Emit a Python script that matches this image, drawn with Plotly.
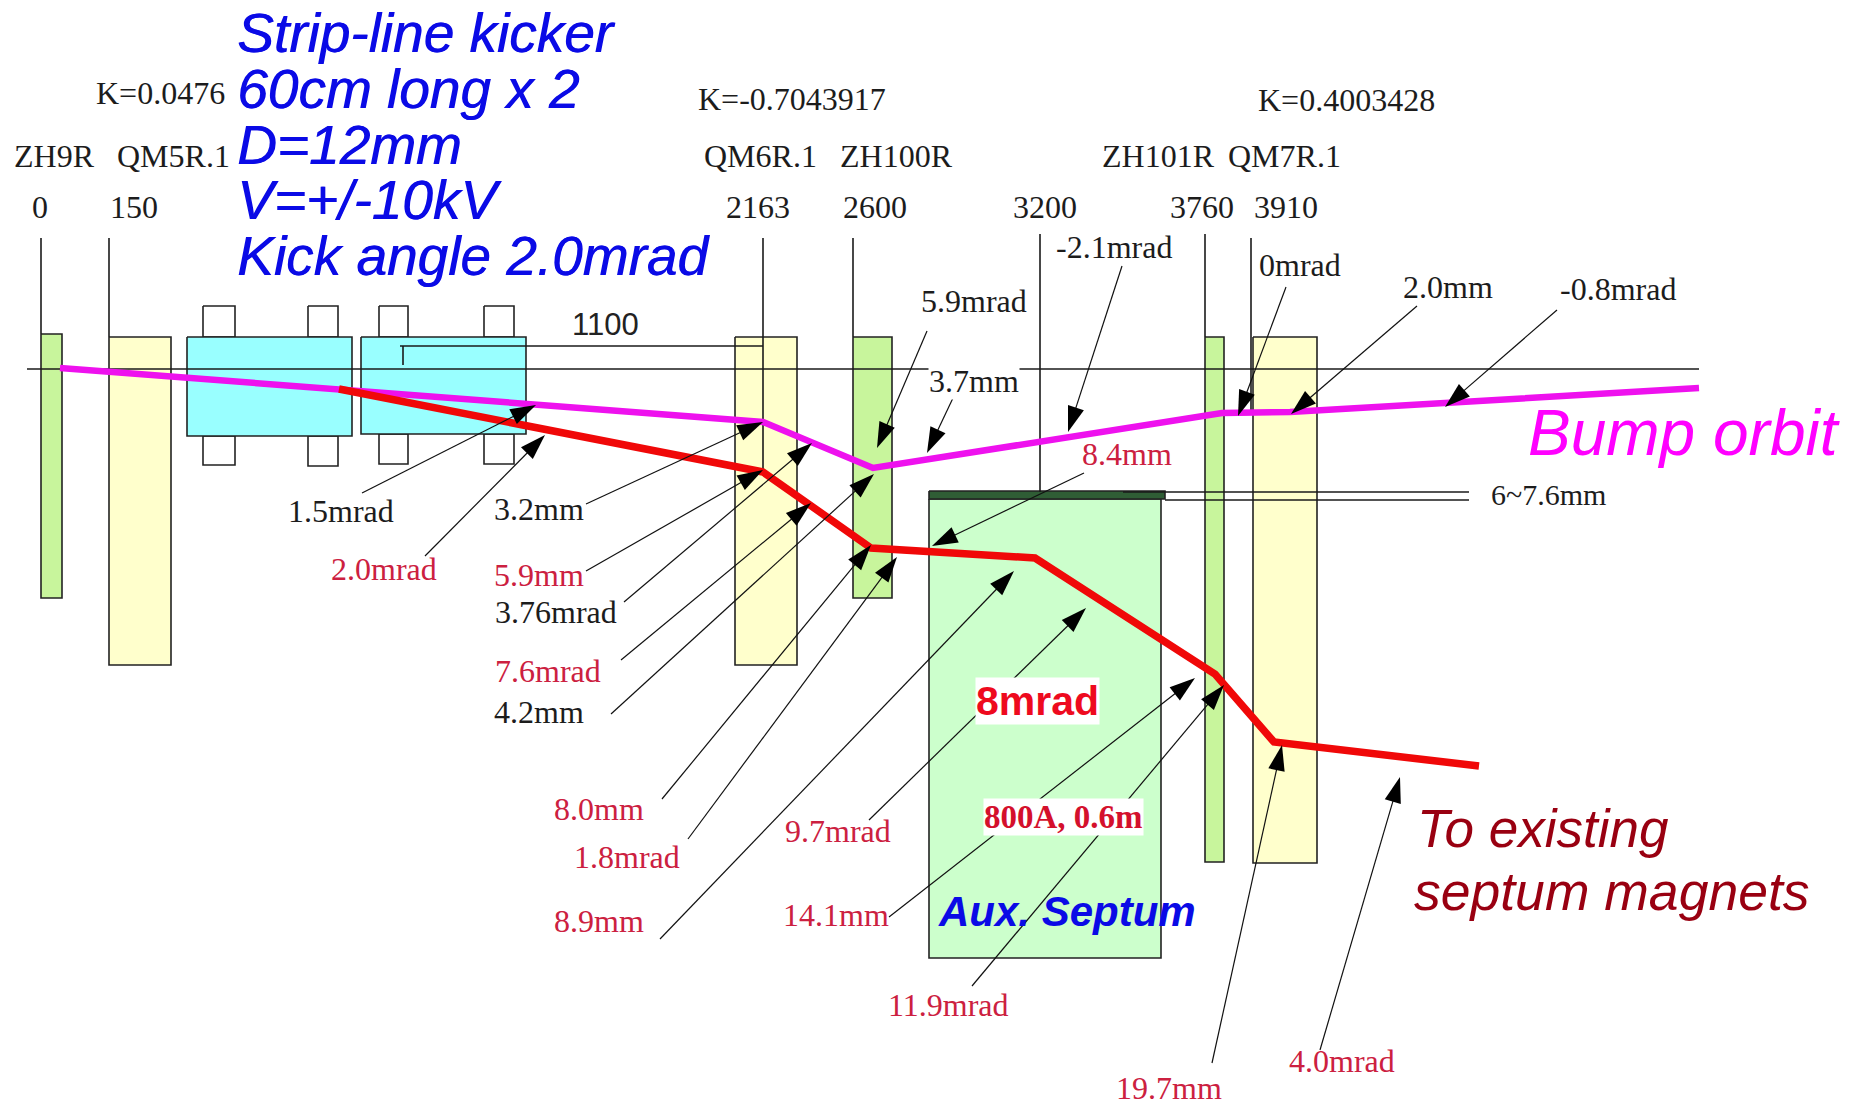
import plotly.graph_objects as go

SERIF = "Liberation Serif"
SANS = "Liberation Sans"
BLACK = "#1c1c1c"
RED_TXT = "#cc2040"
BLUE = "#0a0ae6"

# Elements on the beam line (pixel-plane coordinates of the drawing)
rect_x0 = [41, 109, 187, 361, 735, 853, 1205, 1253, 929, 929]
rect_x1 = [62, 171, 352, 526, 797, 892, 1224, 1317, 1161, 1165]
rect_y0 = [334, 337, 337, 337, 337, 337, 337, 337, 499, 491]
rect_y1 = [598, 665, 436, 434, 665, 598, 862, 863, 958, 499]
rect_fill = ["#c8f59c", "#ffffcc", "#99ffff", "#99ffff", "#ffffcc", "#c8f59c",
             "#c8f59c", "#ffffcc", "#ccffcc", "#2f5d35"]

tab_x0 = [203, 308, 379, 484, 203, 308, 379, 484]
tab_x1 = [235, 338, 408, 514, 235, 338, 408, 514]
tab_y0 = [306, 306, 306, 306, 436, 436, 434, 434]
tab_y1 = [337, 337, 337, 337, 465, 466, 464, 464]

# Reference lines: x0, y0, x1, y1
ref_x0 = [41, 109, 763, 853, 1040, 1205, 1251, 27, 400, 403, 1123, 1165]
ref_y0 = [238, 238, 238, 238, 234, 234, 238, 369, 346, 346, 492, 500]
ref_x1 = [41, 109, 763, 853, 1040, 1205, 1251, 1699, 763, 403, 1469, 1469]
ref_y1 = [334, 337, 472, 337, 492, 337, 415, 369, 346, 365, 492, 500]

# Orbits
bump_x = [60, 763, 873, 1222, 1290, 1699]
bump_y = [368, 422, 468, 413, 412, 388]
extr_x = [339, 763, 871, 1035, 1215, 1274, 1479]
extr_y = [389, 472, 548, 558, 674, 742, 766]

# Leader arrows
arrow_tail_x = [362, 425, 586, 586, 624, 621, 611, 662, 688, 660, 869, 1084, 889, 972, 1212, 1320, 1557, 1417, 1286, 1122, 953, 927]
arrow_tail_y = [493, 556, 504, 571, 602, 660, 714, 799, 839, 939, 820, 473, 917, 986, 1063, 1050, 310, 306, 287, 266, 398, 331]
arrow_head_x = [536, 545, 763, 763, 812, 811, 874, 871, 897, 1014, 1086, 932, 1195, 1224, 1282, 1400, 1445, 1291, 1238, 1068, 927, 877]
arrow_head_y = [405, 435, 422, 470, 443, 503, 474, 545, 557, 571, 608, 546, 678, 685, 745, 777, 407, 414, 416, 432, 453, 448]

# Black serif labels
black_text = ["K=0.0476", "K=-0.7043917", "K=0.4003428",
              "ZH9R", "QM5R.1", "QM6R.1", "ZH100R", "ZH101R", "QM7R.1",
              "0", "150", "2163", "2600", "3200", "3760", "3910",
              "1.5mrad", "3.2mm", "3.76mrad", "4.2mm",
              "5.9mrad", "-2.1mrad", "0mrad", "2.0mm", "-0.8mrad"]
black_x = [160, 792, 1346, 54, 173, 760, 896, 1158, 1284,
           40, 134, 758, 875, 1045, 1202, 1286,
           341, 539, 556, 539, 974, 1114, 1300, 1448, 1618]
black_y = [93, 99, 100, 156, 156, 156, 156, 156, 156,
           207, 207, 207, 207, 207, 207, 207,
           511, 509, 612, 712, 301, 247, 265, 287, 289]

# Red serif labels
red_text = ["2.0mrad", "5.9mm", "7.6mrad", "8.0mm", "1.8mrad", "8.9mm", "9.7mrad",
            "14.1mm", "11.9mrad", "19.7mm", "4.0mrad", "8.4mm"]
red_x = [384, 539, 548, 599, 627, 599, 838, 836, 948, 1169, 1342, 1127]
red_y = [569, 575, 671, 809, 857, 921, 831, 915, 1005, 1088, 1061, 454]

kicker_lines = ["Strip-line kicker", "60cm long x 2", "D=12mm", "V=+/-10kV", "Kick angle 2.0mrad"]
kicker_y = [33, 89, 145, 200, 256]

fig = go.Figure()


def poly(x0, x1, y0, y1, fill):
    fig.add_trace(go.Scatter(
        x=[x0, x1, x1, x0, x0], y=[y0, y0, y1, y1, y0], mode="lines", fill="toself",
        fillcolor=fill, line=dict(color="#222222", width=1.6), hoverinfo="skip"))


for a, b, c, d in zip(tab_x0, tab_x1, tab_y0, tab_y1):
    poly(a, b, c, d, "#ffffff")
for a, b, c, d, f in zip(rect_x0, rect_x1, rect_y0, rect_y1, rect_fill):
    poly(a, b, c, d, f)

for a, b, c, d in zip(ref_x0, ref_x1, ref_y0, ref_y1):
    fig.add_trace(go.Scatter(x=[a, b], y=[c, d], mode="lines",
                             line=dict(color="#1a1a1a", width=1.6), hoverinfo="skip"))

fig.add_trace(go.Scatter(x=bump_x, y=bump_y, mode="lines",
                         line=dict(color="#ee11ee", width=6.5), hoverinfo="skip"))
fig.add_trace(go.Scatter(x=extr_x, y=extr_y, mode="lines",
                         line=dict(color="#f00808", width=7.5), hoverinfo="skip"))

for a, b, c, d in zip(arrow_tail_x, arrow_tail_y, arrow_head_x, arrow_head_y):
    fig.add_trace(go.Scatter(
        x=[a, c], y=[b, d], mode="lines+markers", hoverinfo="skip",
        line=dict(color="#111111", width=1.2),
        marker=dict(symbol="arrow", size=[0, 27], angleref="previous", color="#000000",
                    opacity=1, line=dict(width=0))))


def label(text, x, y, size, color, family=SERIF, bg=None, anchor="center", shadow=None):
    font = dict(family=family, size=size, color=color)
    if shadow:
        font["shadow"] = shadow
    fig.add_annotation(x=x, y=y, text=text, showarrow=False, xanchor=anchor, yanchor="middle",
                       font=font, bgcolor=bg, borderpad=0)


for t, x, y in zip(black_text, black_x, black_y):
    label(t, x, y, 32, BLACK)
for t, x, y in zip(red_text, red_x, red_y):
    label(t, x, y, 32, RED_TXT)
label("3.7mm", 974, 381, 32, BLACK, bg="#ffffff")
label("6~7.6mm", 1548, 494, 30, BLACK)
label("1100", 605, 324, 31, "#222222", SANS)
for t, y in zip(kicker_lines, kicker_y):
    label(f"<i>{t}</i>", 236, y, 55, BLUE, SANS, anchor="left", shadow=f"0.7px 0 0 {BLUE}")
label("<i>Bump orbit</i>", 1527, 433, 64, "#ff00ff", SANS, anchor="left")
label("<i>To existing</i>", 1416, 828, 53, "#990011", SANS, anchor="left")
label("<i>septum magnets</i>", 1413, 891, 53.5, "#990011", SANS, anchor="left")
label("<b>8mrad</b>", 1037, 701, 41, "#ee0a1e", SANS, bg="#ffffff")
label("<b>800A, 0.6m</b>", 1063, 817, 33, "#d4102c", SERIF, bg="#ffffff")
label("<b><i>Aux. Septum</i></b>", 1067, 911, 42, BLUE, SANS)

fig.update_layout(
    width=1859, height=1105, margin=dict(l=0, r=0, t=0, b=0),
    paper_bgcolor="#ffffff", plot_bgcolor="#ffffff", showlegend=False,
    xaxis=dict(range=[0, 1859], visible=False, fixedrange=True),
    yaxis=dict(range=[1105, 0], visible=False, fixedrange=True),
)
fig.write_html("out.html", config={"displayModeBar": False},
               post_script="document.body.style.margin='0';")
